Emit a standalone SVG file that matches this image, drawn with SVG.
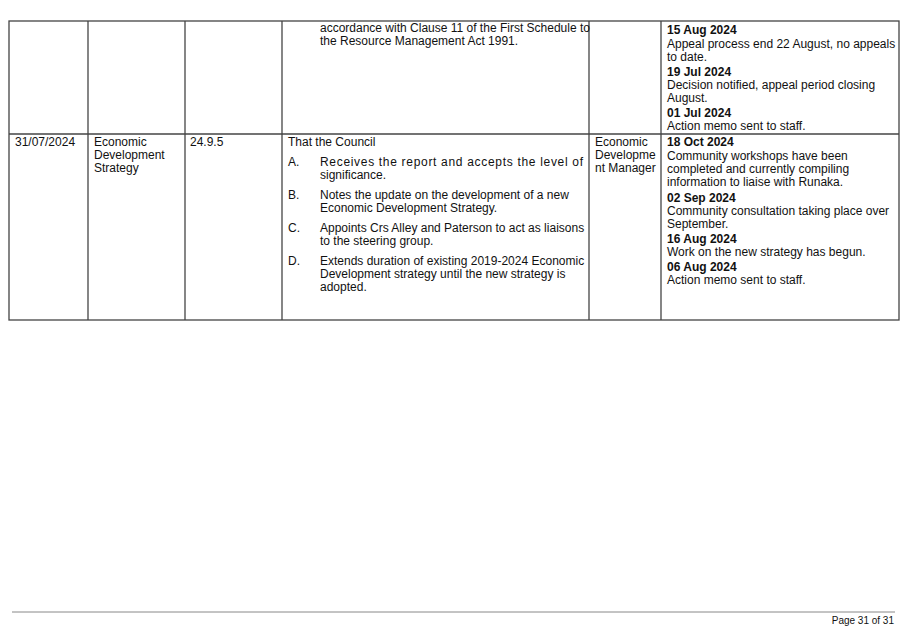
<svg xmlns="http://www.w3.org/2000/svg" width="907" height="626" viewBox="0 0 907 626">
<style>
text{font-family:"Liberation Sans",Arial,sans-serif;font-size:12px;fill:#111}
.b{font-weight:bold}
.g line,.g rect{stroke:#444;stroke-width:1.3;fill:none}
</style>
<rect width="907" height="626" fill="#fff"/>
<g id="grid" class="g">
<rect x="9" y="21" width="890" height="299"/>
<line x1="9" y1="134" x2="899" y2="134"/>
<line x1="88" y1="21" x2="88" y2="320"/>
<line x1="185" y1="21" x2="185" y2="320"/>
<line x1="282" y1="21" x2="282" y2="320"/>
<line x1="589" y1="21" x2="589" y2="320"/>
<line x1="661" y1="21" x2="661" y2="320"/>
</g>
<g id="row1">
<text x="320" y="32">accordance with Clause 11 of the First Schedule to</text>
<text x="320" y="45">the Resource Management Act 1991.</text>
<text x="667" y="34" class="b">15 Aug 2024</text>
<text x="667" y="48">Appeal process end 22 August, no appeals</text>
<text x="667" y="61">to date.</text>
<text x="667" y="76" class="b">19 Jul 2024</text>
<text x="667" y="89">Decision notified, appeal period closing</text>
<text x="667" y="102">August.</text>
<text x="667" y="117" class="b">01 Jul 2024</text>
<text x="667" y="130">Action memo sent to staff.</text>
</g>
<g id="row2">
<text x="15" y="146">31/07/2024</text>
<text x="94" y="146">Economic</text>
<text x="94" y="159">Development</text>
<text x="94" y="172">Strategy</text>
<text x="190" y="146">24.9.5</text>
<text x="288" y="146">That the Council</text>
<text x="288" y="166">A.</text>
<text x="320" y="166" textLength="263" lengthAdjust="spacing">Receives the report and accepts the level of</text>
<text x="320" y="179">significance.</text>
<text x="288" y="199">B.</text>
<text x="320" y="199">Notes the update on the development of a new</text>
<text x="320" y="212">Economic Development Strategy.</text>
<text x="288" y="232">C.</text>
<text x="320" y="232">Appoints Crs Alley and Paterson to act as liaisons</text>
<text x="320" y="245">to the steering group.</text>
<text x="288" y="265">D.</text>
<text x="320" y="265">Extends duration of existing 2019-2024 Economic</text>
<text x="320" y="278">Development strategy until the new strategy is</text>
<text x="320" y="291">adopted.</text>
<text x="595" y="146">Economic</text>
<text x="595" y="159">Developme</text>
<text x="595" y="172">nt Manager</text>
<text x="667" y="146" class="b">18 Oct 2024</text>
<text x="667" y="160">Community workshops have been</text>
<text x="667" y="173">completed and currently compiling</text>
<text x="667" y="186">information to liaise with Runaka.</text>
<text x="667" y="202" class="b">02 Sep 2024</text>
<text x="667" y="215">Community consultation taking place over</text>
<text x="667" y="228">September.</text>
<text x="667" y="243" class="b">16 Aug 2024</text>
<text x="667" y="256">Work on the new strategy has begun.</text>
<text x="667" y="271" class="b">06 Aug 2024</text>
<text x="667" y="284">Action memo sent to staff.</text>
</g>
<g id="footer">
<line x1="12" y1="612" x2="895" y2="612" stroke="#888" stroke-width="1"/>
<text x="894" y="624" text-anchor="end" style="font-size:10px">Page 31 of 31</text>
</g>
</svg>
